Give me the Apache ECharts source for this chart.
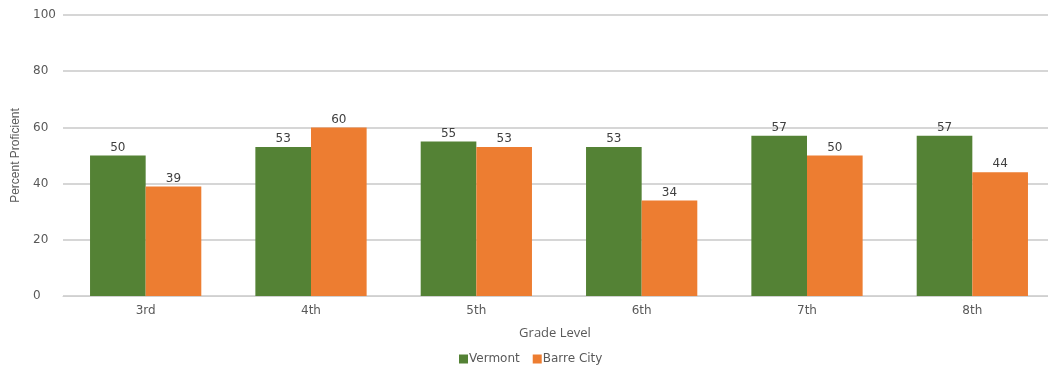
<!DOCTYPE html>
<html>
<head>
<meta charset="utf-8">
<script src="https://cdn.jsdelivr.net/npm/echarts@6/dist/echarts.min.js"></script>
<style>
  html, body { margin: 0; padding: 0; background: #fff; }
  #chart { width: 1048px; height: 369px; }
</style>
</head>
<body>
<div id="chart"></div>
<script>
// Grade levels on the x axis
const grades = ['3rd', '4th', '5th', '6th', '7th', '8th'];
// Percent proficient per grade
const vermont = [50, 53, 55, 53, 57, 57];
const barreCity = [39, 60, 53, 34, 50, 44];
const yTicks = { min: 0, max: 100, interval: 20 };

const textColor = '#595959';
const font = 'DejaVu Sans';

const chart = echarts.init(document.getElementById('chart'), null, { renderer: 'canvas' });

const labelStyle = {
  show: true,
  position: 'top',
  distance: 2,
  color: '#404040',
  fontFamily: font,
  fontSize: 12
};

chart.setOption({
  animation: false,
  textStyle: { fontFamily: font },
  // plot area runs a little past the right edge of the canvas
  grid: { left: 63, width: 992, top: 15, bottom: 73, containLabel: false, outerBoundsMode: 'none' },
  legend: {
    data: ['Vermont', 'Barre City'],
    top: 353,
    left: 459,
    padding: 0,
    itemWidth: 9,
    itemHeight: 9,
    itemGap: 13,
    icon: 'rect',
    textStyle: { color: textColor, fontSize: 12, fontFamily: font, padding: [0, 0, 0, -4] }
  },
  xAxis: {
    type: 'category',
    data: grades,
    name: 'Grade Level',
    nameLocation: 'middle',
    nameGap: 31,
    nameTextStyle: { color: textColor, fontSize: 13, fontFamily: 'Open Sans', padding: [0, 0, 0, -8] },
    axisLine: { lineStyle: { color: '#d0d0d0', width: 1 } },
    axisTick: { show: false },
    axisLabel: { color: textColor, fontSize: 12, fontFamily: font, margin: 9 }
  },
  yAxis: {
    type: 'value',
    min: yTicks.min,
    max: yTicks.max,
    interval: yTicks.interval,
    name: 'Percent Proficient',
    nameLocation: 'middle',
    nameGap: 41,
    nameTextStyle: { color: textColor, fontSize: 12, fontFamily: 'Liberation Sans' },
    axisLine: { show: false },
    axisTick: { show: false },
    axisLabel: { color: textColor, fontSize: 12, fontFamily: font, margin: 30, align: 'left' },
    splitLine: { lineStyle: { color: '#c8c8c8', width: 1.5 } }
  },
  series: [
    {
      name: 'Vermont',
      type: 'bar',
      data: vermont,
      barGap: '0%',
      barCategoryGap: '32.7%',
      itemStyle: { color: '#548235' },
      label: labelStyle
    },
    {
      name: 'Barre City',
      type: 'bar',
      data: barreCity,
      itemStyle: { color: '#ED7D31' },
      label: labelStyle
    }
  ]
});
</script>
</body>
</html>
